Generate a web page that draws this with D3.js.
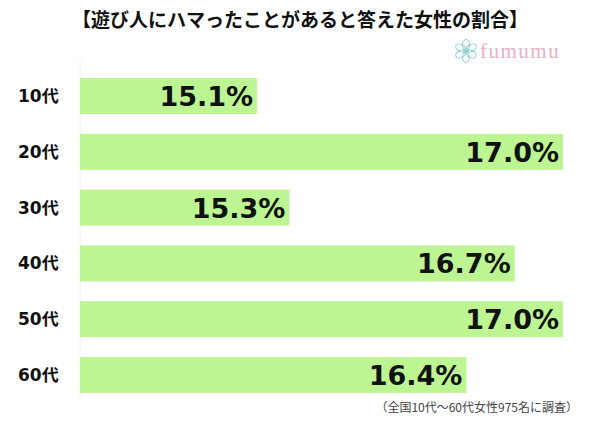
<!DOCTYPE html>
<html>
<head>
<meta charset="utf-8">
<script src="https://cdn.jsdelivr.net/npm/d3@7"></script>
<style>
  body { margin: 0; background: #fff; }
  svg { display: block; }
</style>
</head>
<body>
<svg width="600" height="424"></svg>
<script>
const CATEGORIES = ['10代', '20代', '30代', '40代', '50代', '60代'];
const VALUES = [15.1, 17.0, 15.3, 16.7, 17.0, 16.4];
const TITLE = '【遊び人にハマったことがあると答えた女性の割合】';
const NOTE = '（全国10代～60代女性975名に調査）';

const svg = d3.select('svg');
const font = '"DejaVu Sans", "Noto Sans CJK JP", sans-serif';

// value axis doesn't start at zero in the original
const x = d3.scaleLinear().domain([14, 17]).range([80, 563]);
const y = d3.scaleBand().domain(CATEGORIES).range([68, 403]).paddingInner(0.355).paddingOuter(0.18);

// faint baseline
svg.append('line')
    .attr('x1', x(14)).attr('x2', x(14))
    .attr('y1', 60).attr('y2', 402)
    .attr('stroke', '#eeeeee');

svg.selectAll('.bar')
    .data(VALUES)
    .enter()
    .append('rect')
    .classed('bar', true)
    .attr('x', x(14))
    .attr('y', (d, i) => y(CATEGORIES[i]))
    .attr('width', d => x(d) - x(14))
    .attr('height', y.bandwidth())
    .attr('fill', '#bdf593');

svg.selectAll('.val')
    .data(VALUES)
    .enter()
    .append('text')
    .classed('val', true)
    .attr('x', d => x(d) - 4)
    .attr('y', (d, i) => y(CATEGORIES[i]) + y.bandwidth() / 2 + 10)
    .attr('text-anchor', 'end')
    .attr('font-family', font)
    .attr('font-weight', 'bold')
    .attr('font-size', 27)
    .attr('fill', '#111')
    .text(d => d.toFixed(1) + '%');

svg.selectAll('.cat')
    .data(CATEGORIES)
    .enter()
    .append('text')
    .classed('cat', true)
    .attr('x', 18)
    .attr('y', d => y(d) + y.bandwidth() / 2 + 6)
    .attr('font-family', font)
    .attr('font-weight', 'bold')
    .attr('font-size', 17)
    .attr('fill', '#111')
    .text(d => d);

svg.append('text')
    .attr('x', 300).attr('y', 27)
    .attr('text-anchor', 'middle')
    .attr('font-family', '"Noto Sans CJK JP", sans-serif')
    .attr('font-weight', 'bold')
    .attr('font-size', 19)
    .attr('fill', '#111')
    .text(TITLE);

svg.append('text')
    .attr('x', 578).attr('y', 412)
    .attr('text-anchor', 'end')
    .attr('font-family', '"Noto Sans CJK JP", sans-serif')
    .attr('font-size', 12)
    .attr('fill', '#444')
    .text(NOTE);

// logo: little flower + wordmark
const logo = svg.append('g').attr('transform', 'translate(466,51)');
d3.range(6).forEach(i => {
    logo.append('ellipse')
        .attr('cx', 0).attr('cy', -6)
        .attr('rx', 3.5).attr('ry', 5.5)
        .attr('transform', `rotate(${i * 60})`)
        .attr('fill', 'none')
        .attr('stroke', '#8ccfd0')
        .attr('stroke-width', 1);
});
logo.append('circle').attr('r', 2.5).attr('fill', 'none').attr('stroke', '#8ccfd0');

svg.append('text')
    .attr('x', 480).attr('y', 58)
    .attr('font-family', '"Liberation Serif", "DejaVu Serif", serif')
    .attr('font-size', 21)
    .attr('letter-spacing', 1.5)
    .attr('fill', '#eab0c4')
    .text('fumumu');
</script>
</body>
</html>
